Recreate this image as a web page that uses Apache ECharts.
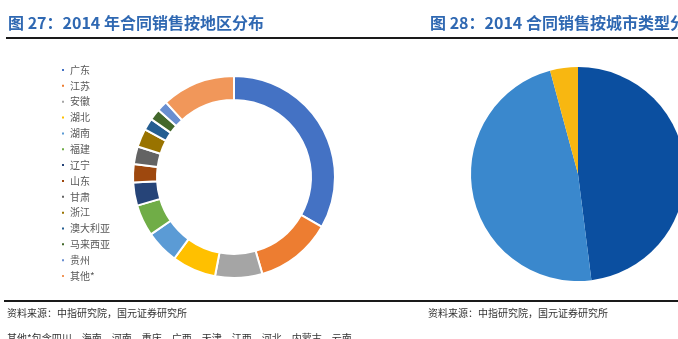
<!DOCTYPE html>
<html>
<head>
<meta charset="utf-8">
<script src="https://cdn.jsdelivr.net/npm/echarts@6/dist/echarts.min.js"></script>
<style>
  html, body { margin: 0; padding: 0; background: #fff; }
  #main { width: 678px; height: 339px; }
</style>
</head>
<body>
<div id="main"></div>
<script>
// 图27：地区分布（%）
var regions = ['广东', '江苏', '安徽', '湖北', '湖南', '福建', '辽宁', '山东', '甘肃', '浙江', '澳大利亚', '马来西亚', '贵州', '其他*'];
var regionValues = [33.0, 12.2, 7.5, 7.0, 5.3, 5.0, 3.7, 2.9, 2.8, 2.9, 1.9, 1.8, 1.7, 11.7];
var regionColors = ['#4472C4', '#ED7D31', '#A5A5A5', '#FFC000', '#5B9BD5', '#70AD47', '#264478',
  '#9E480E', '#636363', '#997300', '#255E91', '#43682B', '#698ED0', '#F1975A'];

// 图28：城市类型分布（%）
var cityTypes = ['一二线城市', '三四线城市', '海外'];
var cityValues = [48.0, 47.8, 4.2];
var cityColors = ['#0B4FA0', '#3A88CD', '#F8B711'];

var cjk = '"Noto Sans CJK SC", sans-serif';

var chart = echarts.init(document.getElementById('main'));
var option = {
  animation: false,
  legend: {
    orient: 'vertical',
    left: 55,
    top: 59,
    icon: 'rect',
    itemWidth: 4,
    itemHeight: 4,
    itemGap: 3.85,
    data: regions,
    textStyle: { fontSize: 10, lineHeight: 12, color: '#595959', fontFamily: cjk }
  },
  graphic: [
    { type: 'text', left: 8, top: 15, style: { text: '图 27：2014 年合同销售按地区分布', fontSize: 16, fontWeight: 'bold', fill: '#2F68B2', fontFamily: cjk } },
    { type: 'text', left: 430, top: 15, style: { text: '图 28：2014 合同销售按城市类型分布', fontSize: 16, fontWeight: 'bold', fill: '#2F68B2', fontFamily: cjk } },
    { type: 'line', shape: { x1: 6, y1: 38, x2: 678, y2: 38 }, style: { stroke: '#1a1a1a', lineWidth: 2 } },
    { type: 'line', shape: { x1: 4, y1: 301, x2: 678, y2: 301 }, style: { stroke: '#1a1a1a', lineWidth: 2 } },
    { type: 'text', left: 7, top: 308, style: { text: '资料来源：中指研究院，国元证券研究所', fontSize: 10, fill: '#333', fontFamily: cjk } },
    { type: 'text', left: 428, top: 308, style: { text: '资料来源：中指研究院，国元证券研究所', fontSize: 10, fill: '#333', fontFamily: cjk } },
    { type: 'text', left: 7, top: 333, style: { text: '其他*包含四川、海南、河南、重庆、广西、天津、江西、河北、内蒙古、云南', fontSize: 10, fill: '#333', fontFamily: cjk } }
  ],
  series: [
    {
      type: 'pie',
      center: [234, 177],
      radius: [77, 101],
      startAngle: 90,
      clockwise: true,
      label: { show: false },
      labelLine: { show: false },
      itemStyle: { borderColor: '#fff', borderWidth: 2 },
      data: regions.map(function (n, i) {
        return { name: n, value: regionValues[i], itemStyle: { color: regionColors[i] } };
      })
    },
    {
      type: 'pie',
      center: [578, 174],
      radius: [0, 107],
      startAngle: 90,
      clockwise: true,
      label: { show: false },
      labelLine: { show: false },
      data: cityTypes.map(function (n, i) {
        return { name: n, value: cityValues[i], itemStyle: { color: cityColors[i] } };
      })
    }
  ]
};
chart.setOption(option);
</script>
</body>
</html>
